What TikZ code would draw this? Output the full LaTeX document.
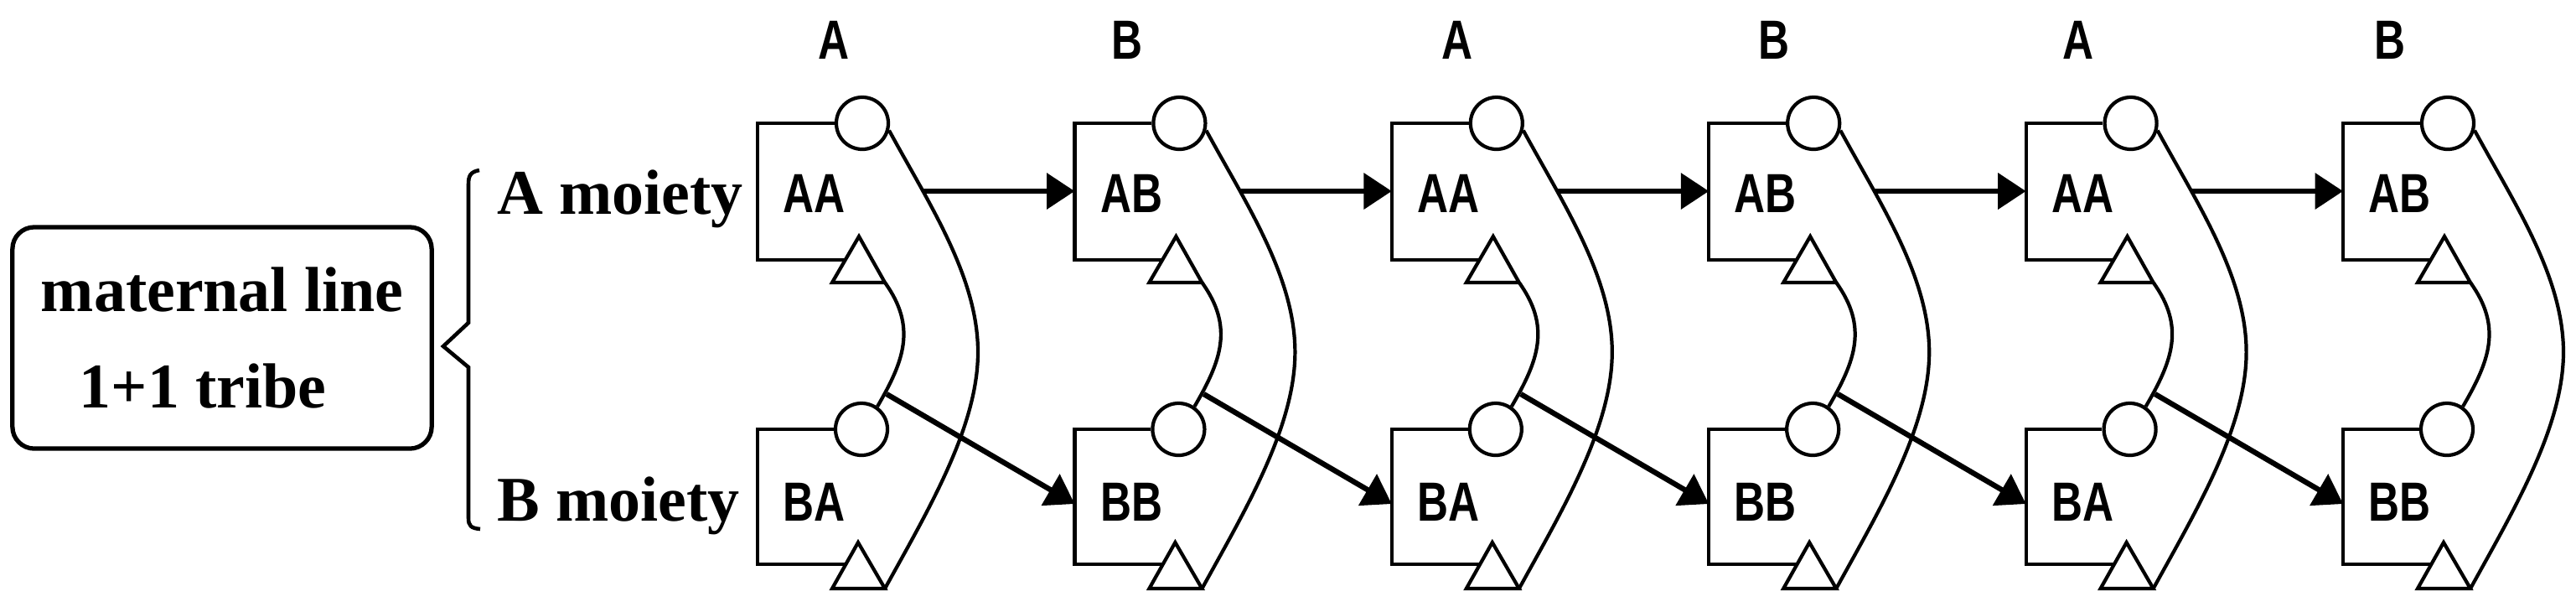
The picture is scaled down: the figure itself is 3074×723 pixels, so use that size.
\documentclass[tikz,border=0pt]{standalone}
\usepackage{fontspec}
\setmainfont{Liberation Serif}
\newfontfamily\labfont[FakeStretch=0.78]{Liberation Sans Bold}
\usetikzlibrary{arrows.meta}
\begin{document}
\begin{tikzpicture}[x=0.01cm,y=-0.01cm,
  shapeline/.style={line width=1.2pt, line join=miter},
  arr/.style={line width=1.8pt, -{Triangle[length=9.5pt,width=12pt]}},
  lab/.style={font=\labfont\fontsize{18.7}{20}\selectfont, inner sep=0pt},
  ser/.style={font=\bfseries\fontsize{21.6}{32.7}\selectfont},
  ring/.style={circle, draw, shapeline, minimum size=0.62cm, inner sep=0pt}]
\useasboundingbox (0,0) rectangle (3074,723);

% left box and brace
\node[draw, rounded corners=0.26cm, line width=1.5pt, minimum width=5cm,
      minimum height=2.64cm, align=center, ser] (mbox) at (265,403)
      {maternal line\\1+1 tribe\hspace*{0.46cm}};
\draw[line width=1.3pt] (572,203) .. controls (561,205) and (559,210) .. (559,220)
  -- (559,385) -- (529,413) -- (559,438) -- (559,618)
  .. controls (559,627) and (562,630) .. (573,631);
\node[ser, anchor=base west, inner sep=0pt] (am) at (593,255) {A moiety};
\node[ser, anchor=base west, inner sep=0pt] (bm) at (593,621) {B moiety};

% units
\foreach \i/\lx/\s in {0/995/A,1/1345/B,2/1739/A,3/2117/B,4/2480/A,5/2852/B}{
  \pgfmathsetmacro\X{904+378.4*\i}
  \node[lab, anchor=base] (L\i) at (\lx,70) {\s};
  \node[lab, anchor=base west] (T\i) at ({\X+30},253) {A\s};
  \node[lab, anchor=base west] (B\i) at ({\X+30},621) {B\s};
  \node[ring] (ct\i) at ({\X+125},147) {};
  \node[ring] (cb\i) at ({\X+124},512) {};
  \coordinate (tw\i) at (\X,228);
  \coordinate (bw\i) at (\X,601);
  \coordinate (h\i) at ({\X+197},228);
  \coordinate (d\i) at ({\X+154},470);
  % top box
  \draw[shapeline] (ct\i.west) -- (\X,147) -- (\X,310) -- ({\X+105},310);
  \draw[shapeline] ({\X+89},337) -- ({\X+121},282) -- ({\X+152},337) -- cycle;
  % bottom box
  \draw[shapeline] (cb\i.west) -- (\X,512) -- (\X,673) -- ({\X+105},673);
  \draw[shapeline] ({\X+89},702) -- ({\X+120},647) -- ({\X+152},702) -- cycle;
  % big curve
  \draw[shapeline] (ct\i.-15) .. controls ({\X+204},242) and ({\X+263},330) .. ({\X+263},420)
     .. controls ({\X+263},510) and ({\X+202},611) .. ({\X+152},702);
  % small curve
  \draw[shapeline] ({\X+152},337) .. controls ({\X+190},390) and ({\X+175},430) .. (cb\i.55);
}

% arrows
\foreach \i/\j in {0/1,1/2,2/3,3/4,4/5}{
  \draw[arr] (h\i) -- (tw\j);
  \draw[arr] (d\i) -- (bw\j);
}
\end{tikzpicture}
\end{document}
